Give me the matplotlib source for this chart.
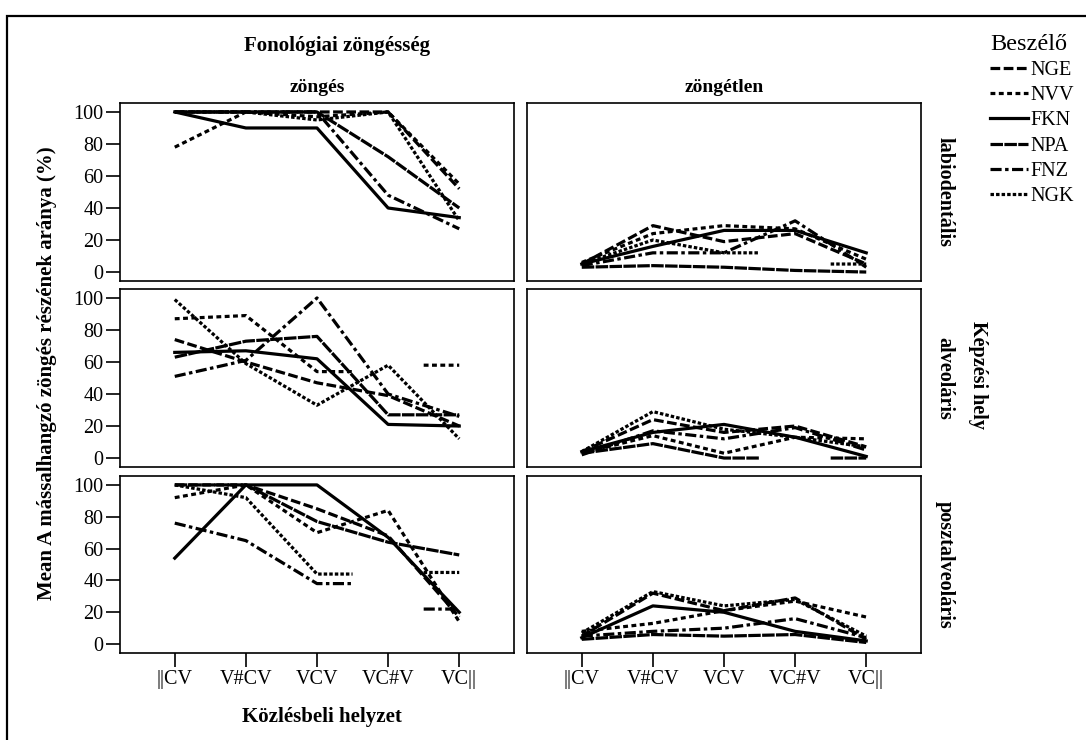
import numpy as np
import matplotlib
matplotlib.use('Agg')
import matplotlib.pyplot as plt
from matplotlib.patches import Rectangle

plt.rcParams['font.family'] = ['Liberation Serif', 'DejaVu Serif']
plt.rcParams['lines.scale_dashes'] = False

nan = np.nan

positions = ["||CV", "V#CV", "VCV", "VC#V", "VC||"]
speakers = ["NGE", "NVV", "FKN", "NPA", "FNZ", "NGK"]
voicing = ["zöngés", "zöngétlen"]
places = ["labiodentális", "alveoláris", "posztalveoláris"]

# values per speaker: [place][voicing] -> 5 positions
NGE = [[[100, 100, 100, 100, 52], [5, 29, 19, 24, 5]],
       [[74, 60, 47, 39, 20], [4, 24, 16, 20, 7]],
       [[100, 100, 85, 68, 17], [5, 32, 21, 29, 3]]]
NVV = [[[78, 100, 97, 100, 55], [6, 24, 29, 27, 8]],
       [[87, 89, 54, nan, 58], [3, 14, 3, 13, 12]],
       [[92, 100, 70, 84, 14], [8, 13, 21, 27, 17]]]
FKN = [[[100, 90, 90, 40, 34], [5, 16, 26, 26, 12]],
       [[66, 67, 62, 21, 20], [4, 16, 21, 13, 1]],
       [[54, 100, 100, 67, 20], [4, 24, 20, 8, 2]]]
NPA = [[[100, 100, 100, 72, 40], [3, 4, 3, 1, 0]],
       [[63, 73, 76, 27, 27], [3, 9, 0, nan, 0]],
       [[100, 100, 77, 64, 56], [3, 6, 5, 6, 1]]]
FNZ = [[[100, 100, 100, 48, 27], [4, 12, 12, 32, 3]],
       [[51, 61, 100, 40, 26], [2, 17, 12, 19, 5]],
       [[76, 65, 38, nan, 22], [5, 8, 10, 16, 4]]]
NGK = [[[100, 100, 95, 100, 32], [5, 20, 12, nan, 5]],
       [[99, 59, 33, 58, 12], [4, 29, 18, 13, 7]],
       [[100, 92, 44, nan, 45], [7, 33, 24, 28, 5]]]

data = {"NGE": NGE, "NVV": NVV, "FKN": FKN, "NPA": NPA, "FNZ": FNZ, "NGK": NGK}
styles = {"NGE": (0, (7, 2.5)),
          "NVV": (0, (3.5, 2.5)),
          "FKN": "-",
          "NPA": (0, (9, 1)),
          "FNZ": (0, (8, 2.5, 2.5, 2.5)),
          "NGK": (0, (2.5, 1.5))}


def half_segments(vals):
    # points next to a missing value get a flat half segment toward it
    xs, ys = [], []
    n = len(vals)
    for i, v in enumerate(vals):
        if np.isnan(v):
            xs.append(nan)
            ys.append(nan)
            continue
        if i > 0 and np.isnan(vals[i - 1]):
            xs.append(i - 0.5)
            ys.append(v)
        xs.append(i)
        ys.append(v)
        if i < n - 1 and np.isnan(vals[i + 1]):
            xs.append(i + 0.5)
            ys.append(v)
    return xs, ys


W, H = 1086, 740
fig = plt.figure(figsize=(W / 100, H / 100), dpi=100)

fig.patches.append(Rectangle((7 / W, -0.2), 1.2, 1.2 - 16 / H, transform=fig.transFigure,
                             fill=False, lw=1.6, ec='black'))

col_x = [120, 527]
row_y = [(103, 281), (289, 467), (476, 653)]
pw = 394

handles = {}
for r in range(3):
    for c in range(2):
        top, bot = row_y[r]
        ax = fig.add_axes([col_x[c] / W, 1 - bot / H, pw / W, (bot - top) / H])
        for sp in speakers:
            xs, ys = half_segments(np.array(data[sp][r][c], dtype=float))
            ln, = ax.plot(xs, ys, color='black', lw=2.3, ls=styles[sp], label=sp)
            handles[sp] = ln
        ax.set_xlim(-0.77, 4.77)
        ax.set_ylim(-5.6, 105.6)
        for s in ax.spines.values():
            s.set_linewidth(1.2)
        ax.tick_params(length=10, width=1.2, labelsize=14.5, pad=2)
        if c == 0:
            ax.set_yticks([0, 20, 40, 60, 80, 100])
        else:
            ax.set_yticks([])
        if r == 2:
            ax.set_xticks(range(5))
            ax.set_xticklabels(positions)
        else:
            ax.set_xticks([])
        if r == 0:
            ax.set_title(voicing[c], fontsize=14, fontweight='bold', pad=8)
        if c == 1:
            ax.text(1.035, 0.5, places[r], transform=ax.transAxes, rotation=-90,
                    ha='left', va='center', fontsize=14.5, fontweight='bold')

fig.text(337 / W, 1 - 46 / H, "Fonológiai zöngésség", ha='center', va='center',
         fontsize=15, fontweight='bold')
fig.text(322 / W, 1 - 717 / H, "Közlésbeli helyzet", ha='center', va='center',
         fontsize=15, fontweight='bold')
fig.text(47 / W, 1 - 373 / H, "Mean A mássalhangzó zöngés részének aránya (%)",
         ha='center', va='center', rotation=90, fontsize=15, fontweight='bold')
fig.text(978 / W, 1 - 375 / H, "Képzési hely", ha='center', va='center',
         rotation=-90, fontsize=14.5, fontweight='bold')

leg = fig.legend([handles[s] for s in speakers], speakers, loc='upper left',
                 bbox_to_anchor=(990 / W, 1 - 34 / H), frameon=False, borderpad=0,
                 borderaxespad=0, fontsize=14.5, title="Beszélő", title_fontsize=17.5,
                 handlelength=1.9, handletextpad=0.1, labelspacing=0.3,
                 alignment='left')

fig.savefig("out.png", dpi=100)
